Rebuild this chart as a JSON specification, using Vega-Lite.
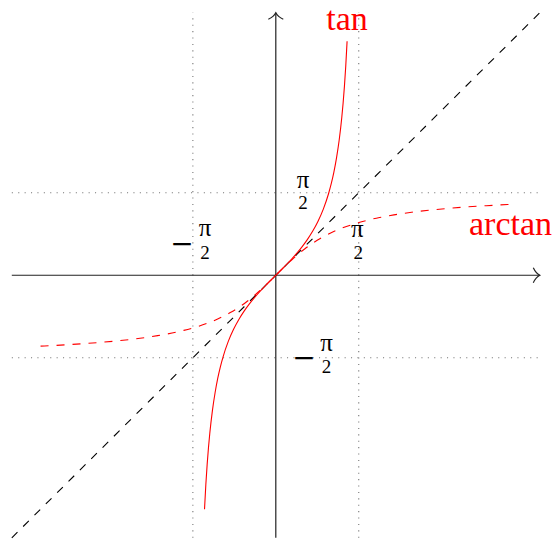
{
  "$schema": "https://vega.github.io/schema/vega-lite/v6.json",
  "width": 556,
  "height": 539,
  "autosize": {"type": "fit", "contains": "padding"},
  "padding": 0,
  "background": "white",
  "config": {"view": {"stroke": null}},
  "datasets": {
    "curve": [
      {"t": -1.35, "tan": -4.45522},
      {"t": -1.325, "tan": -3.98616},
      {"t": -1.3, "tan": -3.6021},
      {"t": -1.275, "tan": -3.28153},
      {"t": -1.25, "tan": -3.00957},
      {"t": -1.2, "tan": -2.57215},
      {"t": -1.15, "tan": -2.23716},
      {"t": -1.1, "tan": -1.96476},
      {"t": -1.05, "tan": -1.74332},
      {"t": -1.0, "tan": -1.55741},
      {"t": -0.9, "tan": -1.26016},
      {"t": -0.8, "tan": -1.02964},
      {"t": -0.7, "tan": -0.84229},
      {"t": -0.6, "tan": -0.68414},
      {"t": -0.5, "tan": -0.5463},
      {"t": -0.4, "tan": -0.42279},
      {"t": -0.3, "tan": -0.30934},
      {"t": -0.2, "tan": -0.20271},
      {"t": -0.1, "tan": -0.10033},
      {"t": 0, "tan": 0},
      {"t": 0.1, "tan": 0.10033},
      {"t": 0.2, "tan": 0.20271},
      {"t": 0.3, "tan": 0.30934},
      {"t": 0.4, "tan": 0.42279},
      {"t": 0.5, "tan": 0.5463},
      {"t": 0.6, "tan": 0.68414},
      {"t": 0.7, "tan": 0.84229},
      {"t": 0.8, "tan": 1.02964},
      {"t": 0.9, "tan": 1.26016},
      {"t": 1.0, "tan": 1.55741},
      {"t": 1.05, "tan": 1.74332},
      {"t": 1.1, "tan": 1.96476},
      {"t": 1.15, "tan": 2.23716},
      {"t": 1.2, "tan": 2.57215},
      {"t": 1.25, "tan": 3.00957},
      {"t": 1.275, "tan": 3.28153},
      {"t": 1.3, "tan": 3.6021},
      {"t": 1.325, "tan": 3.98616},
      {"t": 1.35, "tan": 4.45522}
    ]
  },
  "layer": [
    {
      "data": {"values": [
        {"x": -5, "x2": 5, "y": 1.5708, "y2": 1.5708},
        {"x": -5, "x2": 5, "y": -1.5708, "y2": -1.5708},
        {"x": 1.5708, "x2": 1.5708, "y": -5, "y2": 5},
        {"x": -1.5708, "x2": -1.5708, "y": -5, "y2": 5}
      ]},
      "mark": {"type": "rule", "color": "#777777", "strokeWidth": 1.1, "strokeDash": [1.1, 5.3]},
      "encoding": {
        "x": {"field": "x", "type": "quantitative", "scale": {"domain": [-5.2235, 5.3068], "nice": false, "zero": false}, "axis": null},
        "x2": {"field": "x2"},
        "y": {"field": "y", "type": "quantitative", "scale": {"domain": [-4.9659, 5.2424], "nice": false, "zero": false}, "axis": null},
        "y2": {"field": "y2"}
      }
    },
    {
      "data": {"values": [
        {"x": -5, "x2": 5, "y": 0, "y2": 0},
        {"x": 0, "x2": 0, "y": -5, "y2": 5}
      ]},
      "mark": {"type": "rule", "color": "#222222", "strokeWidth": 1.2},
      "encoding": {
        "x": {"field": "x", "type": "quantitative", "scale": {"domain": [-5.2235, 5.3068], "nice": false, "zero": false}, "axis": null},
        "x2": {"field": "x2"},
        "y": {"field": "y", "type": "quantitative", "scale": {"domain": [-4.9659, 5.2424], "nice": false, "zero": false}, "axis": null},
        "y2": {"field": "y2"}
      }
    },
    {
      "data": {"values": [
        {"dir": "right", "x": 5, "y": 0},
        {"dir": "up", "x": 0, "y": 5}
      ]},
      "mark": {"type": "point", "filled": false, "stroke": "#222222", "strokeWidth": 1.2, "opacity": 1, "size": 169},
      "encoding": {
        "x": {"field": "x", "type": "quantitative", "scale": {"domain": [-5.2235, 5.3068], "nice": false, "zero": false}, "axis": null},
        "y": {"field": "y", "type": "quantitative", "scale": {"domain": [-4.9659, 5.2424], "nice": false, "zero": false}, "axis": null},
        "shape": {"field": "dir", "type": "nominal", "legend": null, "scale": {"domain": ["right", "up"], "range": ["M-1,-1.15 C-0.7,-0.5 -0.2,-0.1 0,0 C-0.2,0.1 -0.7,0.5 -1,1.15", "M-1.15,1 C-0.5,0.7 -0.1,0.2 0,0 C0.1,0.2 0.5,0.7 1.15,1"]}}
      }
    },
    {
      "data": {"values": [
        {"x": -5, "x2": 5, "y": -5, "y2": 5}
      ]},
      "mark": {"type": "rule", "color": "black", "strokeWidth": 1.1, "strokeDash": [8, 8]},
      "encoding": {
        "x": {"field": "x", "type": "quantitative", "scale": {"domain": [-5.2235, 5.3068], "nice": false, "zero": false}, "axis": null},
        "x2": {"field": "x2"},
        "y": {"field": "y", "type": "quantitative", "scale": {"domain": [-4.9659, 5.2424], "nice": false, "zero": false}, "axis": null},
        "y2": {"field": "y2"}
      }
    },
    {
      "data": {"name": "curve"},
      "mark": {"type": "line", "color": "#ff0000", "strokeWidth": 1.1, "strokeDash": [8, 8], "interpolate": "monotone"},
      "encoding": {
        "x": {"field": "tan", "type": "quantitative", "scale": {"domain": [-5.2235, 5.3068], "nice": false, "zero": false}, "axis": null},
        "y": {"field": "t", "type": "quantitative", "scale": {"domain": [-4.9659, 5.2424], "nice": false, "zero": false}, "axis": null}
      }
    },
    {
      "data": {"name": "curve"},
      "mark": {"type": "line", "color": "#ff0000", "strokeWidth": 1.1, "interpolate": "monotone"},
      "encoding": {
        "x": {"field": "t", "type": "quantitative", "scale": {"domain": [-5.2235, 5.3068], "nice": false, "zero": false}, "axis": null},
        "y": {"field": "tan", "type": "quantitative", "scale": {"domain": [-4.9659, 5.2424], "nice": false, "zero": false}, "axis": null}
      }
    },
    {
      "data": {"values": [
        {"label": "π", "x": 0.515, "y": 1.66},
        {"label": "π", "x": -1.341, "y": 0.74},
        {"label": "π", "x": 1.545, "y": 0.727},
        {"label": "π", "x": 0.96, "y": -1.45}
      ]},
      "mark": {"type": "text", "font": "Liberation Serif", "fontSize": 25, "color": "black", "align": "center", "baseline": "alphabetic"},
      "encoding": {
        "x": {"field": "x", "type": "quantitative", "scale": {"domain": [-5.2235, 5.3068], "nice": false, "zero": false}, "axis": null},
        "y": {"field": "y", "type": "quantitative", "scale": {"domain": [-4.9659, 5.2424], "nice": false, "zero": false}, "axis": null},
        "text": {"field": "label"}
      }
    },
    {
      "data": {"values": [
        {"label": "2", "x": 0.515, "y": 1.265},
        {"label": "2", "x": -1.341, "y": 0.318},
        {"label": "2", "x": 1.56, "y": 0.318},
        {"label": "2", "x": 0.96, "y": -1.869}
      ]},
      "mark": {"type": "text", "font": "Liberation Serif", "fontSize": 19, "color": "black", "align": "center", "baseline": "alphabetic"},
      "encoding": {
        "x": {"field": "x", "type": "quantitative", "scale": {"domain": [-5.2235, 5.3068], "nice": false, "zero": false}, "axis": null},
        "y": {"field": "y", "type": "quantitative", "scale": {"domain": [-4.9659, 5.2424], "nice": false, "zero": false}, "axis": null},
        "text": {"field": "label"}
      }
    },
    {
      "data": {"values": [
        {"label": "−", "x": -1.777, "y": 0.574},
        {"label": "−", "x": 0.534, "y": -1.59}
      ]},
      "mark": {"type": "text", "font": "DejaVu Serif", "fontSize": 28, "color": "black", "align": "center", "baseline": "middle"},
      "encoding": {
        "x": {"field": "x", "type": "quantitative", "scale": {"domain": [-5.2235, 5.3068], "nice": false, "zero": false}, "axis": null},
        "y": {"field": "y", "type": "quantitative", "scale": {"domain": [-4.9659, 5.2424], "nice": false, "zero": false}, "axis": null},
        "text": {"field": "label"}
      }
    },
    {
      "data": {"values": [
        {"label": "tan", "x": 1.348, "y": 4.674},
        {"label": "arctan", "x": 4.445, "y": 0.759}
      ]},
      "mark": {"type": "text", "font": "Liberation Serif", "fontSize": 34, "color": "#ff0000", "align": "center", "baseline": "alphabetic"},
      "encoding": {
        "x": {"field": "x", "type": "quantitative", "scale": {"domain": [-5.2235, 5.3068], "nice": false, "zero": false}, "axis": null},
        "y": {"field": "y", "type": "quantitative", "scale": {"domain": [-4.9659, 5.2424], "nice": false, "zero": false}, "axis": null},
        "text": {"field": "label"}
      }
    }
  ]
}
